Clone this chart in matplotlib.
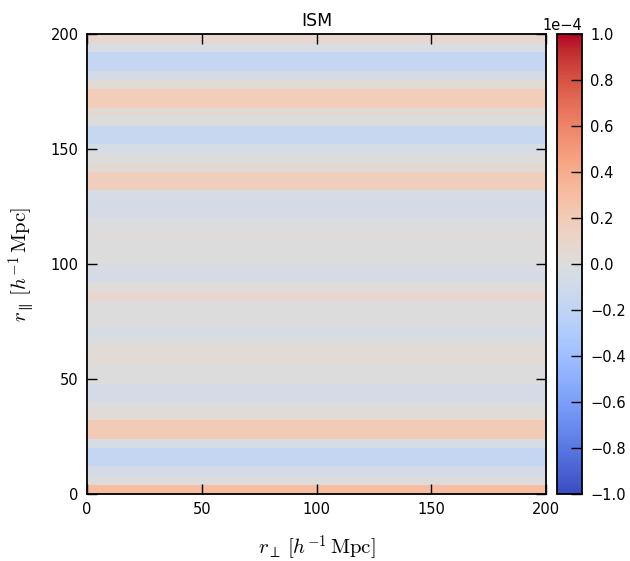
import numpy as np
import matplotlib
matplotlib.use("Agg")
import matplotlib.pyplot as plt

plt.rcParams["mathtext.fontset"] = "cm"

# ---------- data ----------
# bin edges (h^-1 Mpc)
R_PERP_EDGES = np.arange(0, 204, 4)
R_PAR_EDGES = np.arange(0, 204, 4)

# correlation per r_parallel bin (units of 1e-4), bottom -> top
ROW_VALUES = [
    0.30, 0.00, -0.07, -0.17, -0.17, -0.05, 0.20, 0.20, 0.04, 0.01,
    -0.07, -0.07, 0.00, 0.00, 0.04, 0.04, 0.00, -0.05, 0.00, 0.00,
    0.00, 0.08, 0.02, -0.07, -0.04, 0.00, 0.00, 0.01, 0.01, -0.02,
    -0.07, -0.07, -0.05, 0.17, 0.17, 0.05, 0.00, -0.05, -0.15, -0.15,
    0.00, 0.05, 0.18, 0.18, 0.04, -0.06, -0.17, -0.17, -0.03, 0.08,
]

SCALE = 1e-4
Z = np.repeat(np.array(ROW_VALUES)[:, None], len(R_PERP_EDGES) - 1, axis=1) * SCALE

# ---------- plot ----------
fig = plt.figure(figsize=(6.3, 5.61), dpi=100)
ax = fig.add_axes([0.138, 0.1194, 0.729, 0.82])
cax = fig.add_axes([0.884, 0.1194, 0.040, 0.82])

mesh = ax.pcolormesh(R_PERP_EDGES, R_PAR_EDGES, Z, cmap="coolwarm",
                     vmin=-1e-4, vmax=1e-4, shading="flat")
ax.set_xlim(0, 200)
ax.set_ylim(0, 200)
ax.set_xticks([0, 50, 100, 150, 200])
ax.set_yticks([0, 50, 100, 150, 200])
ax.tick_params(direction="in", length=7, width=1, top=True, right=True,
               labelsize=10.5, pad=6)
for s in ax.spines.values():
    s.set_linewidth(1.3)

ax.set_title("ISM", fontsize=12.5, pad=6)
ax.set_xlabel(r"$r_{\perp}\,[h^{-1}\,\mathrm{Mpc}]$", fontsize=15, labelpad=11)
ax.set_ylabel(r"$r_{\parallel}\,[h^{-1}\,\mathrm{Mpc}]$", fontsize=15, labelpad=10)

cb = fig.colorbar(mesh, cax=cax, ticks=np.linspace(-1e-4, 1e-4, 11))
cb.formatter.set_powerlimits((0, 0))
cb.update_ticks()
cax.tick_params(direction="in", length=8, width=1, labelsize=10.5, pad=6)
cax.yaxis.get_offset_text().set_fontsize(10.5)
cb.outline.set_linewidth(1.3)

plt.savefig("out.png", dpi=100)
